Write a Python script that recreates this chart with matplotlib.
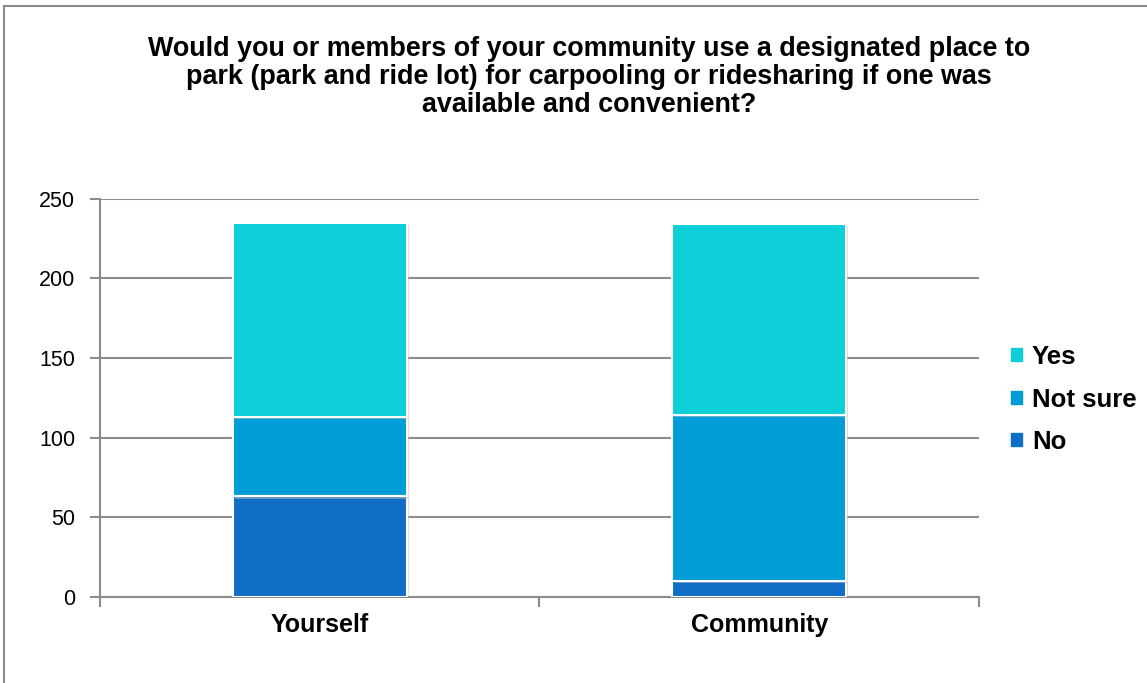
import matplotlib
matplotlib.use("Agg")
import matplotlib.pyplot as plt
import matplotlib.patches as mpatches
import matplotlib.patheffects as pe
import numpy as np

plt.rcParams["font.family"] = ["Liberation Sans", "DejaVu Sans"]

# Survey responses per group
groups = ["Yourself", "Community"]
no_counts = [63, 10]
not_sure_counts = [50, 104]
yes_counts = [122, 120]

COLORS = {
    "Yes": "#0DCFD8",
    "Not sure": "#009DD7",
    "No": "#0F6EC3",
}
GRID = "#8C8C8C"

fig = plt.figure(figsize=(11.47, 6.83), dpi=100, facecolor="white")
ax = fig.add_axes([0.0872, 0.1263, 0.7663, 0.5828])

x = np.arange(len(groups))
width = 0.395
shadow = [pe.SimplePatchShadow(offset=(1.5, -1.5), shadow_rgbFace="#BBBBBB", alpha=0.5), pe.Normal()]

bottom = np.zeros(len(groups))
for name, vals in [("No", no_counts), ("Not sure", not_sure_counts), ("Yes", yes_counts)]:
    bars = ax.bar(x, vals, width, bottom=bottom, color=COLORS[name],
                  edgecolor="white", linewidth=1.5, zorder=3, label=name)
    for b in bars:
        b.set_path_effects(shadow)
    bottom += np.array(vals)

ax.set_xlim(-0.5, len(groups) - 0.5)
ax.set_ylim(0, 250)
ax.set_yticks(range(0, 251, 50))
ax.yaxis.grid(True, color=GRID, linewidth=1.5, zorder=0)
ax.set_axisbelow(True)

for side in ["top", "right"]:
    ax.spines[side].set_visible(False)
for side in ["left", "bottom"]:
    ax.spines[side].set_color(GRID)
    ax.spines[side].set_linewidth(1.5)

# category boundaries as x ticks, labels centred between them
ax.set_xticks(np.arange(-0.5, len(groups), 1.0))
ax.set_xticklabels([])
ax.set_xticks(x, minor=True)
ax.set_xticklabels(groups, minor=True, fontsize=18, fontweight="bold")
ax.tick_params(axis="x", which="major", length=7, width=1.5, color=GRID, direction="out")
ax.tick_params(axis="x", which="minor", length=0, pad=12)
ax.tick_params(axis="y", length=7, width=1.5, color=GRID, labelsize=15.5, pad=11)

fig.text(0.5135, 0.887,
         "Would you or members of your community use a designated place to\n"
         "park (park and ride lot) for carpooling or ridesharing if one was\n"
         "available and convenient?",
         ha="center", va="center", fontsize=19.4, fontweight="bold", linespacing=1.1)

handles = [mpatches.Patch(color=COLORS[k], label=k) for k in ["Yes", "Not sure", "No"]]
leg = fig.legend(handles=handles, loc="center left", bbox_to_anchor=(0.8705, 0.415),
                 frameon=False, borderpad=0, handlelength=0.4, handleheight=0.4,
                 handletextpad=0.4, labelspacing=0.72,
                 prop={"weight": "bold", "size": 18.5})

# outer chart frame
fig.add_artist(plt.Line2D([0.0035, 0.0035], [0, 0.991], color=GRID, linewidth=1.5))
fig.add_artist(plt.Line2D([0.0035, 1.0], [0.991, 0.991], color=GRID, linewidth=1.5))

fig.savefig("out.png", dpi=100, facecolor="white")
